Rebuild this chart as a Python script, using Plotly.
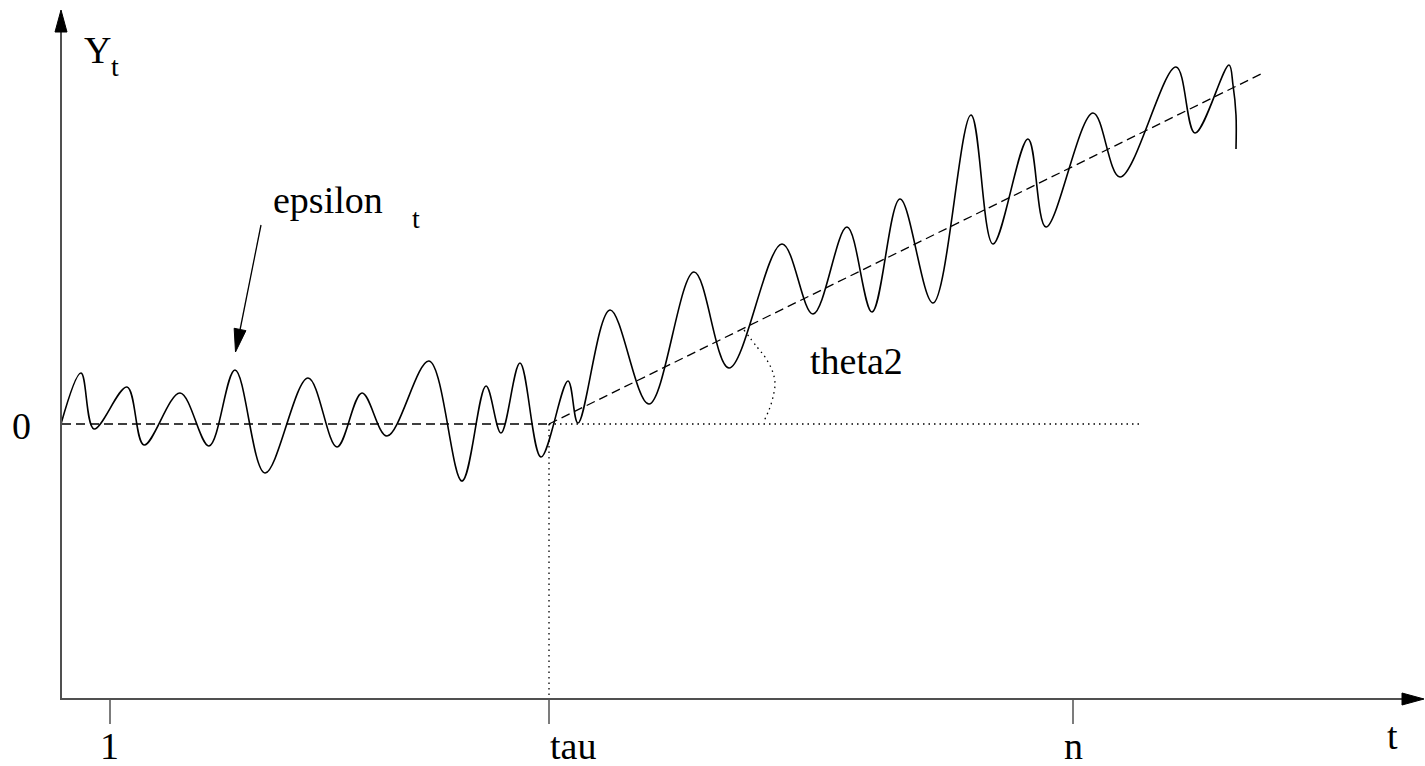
import plotly.graph_objects as go

# ---------------- data ----------------
# time position t and value Y_t (plot units; origin at t=0, Y=0)
wave_t = [-1, 19, 32, 65, 82, 118, 147, 173, 203, 246, 275, 300, 325, 367, 400,
          424, 439, 458, 479, 506, 516, 548, 587, 632, 667, 720, 751, 785, 810,
          838, 871, 909, 931, 966, 984, 1031, 1058, 1114, 1133, 1167, 1171, 1174, 1174]
wave_y = [0, 51, -5, 37, -21, 31, -22, 54, -49, 46, -23, 31, -12, 63, -57,
          38, -9, 61, -33, 43, 1, 114, 20, 152, 56, 180, 110, 197, 112,
          225, 121, 309, 180, 285, 197, 311, 247, 357, 291, 359, 339, 309, 275]

zero_t = [0, 487]          # mean level before the change point
zero_y = [0, 0]
trend_t = [487, 1199]      # trend after the change point
trend_y = [0, 350]
base_t = [487, 1081]       # horizontal reference for the angle
base_y = [0, 0]
tau_t = [487, 487]         # drop line at tau
tau_y = [0, -276]
arc_t = [682, 695, 703, 710, 713, 711, 707, 701]   # angle arc theta2
arc_y = [94, 77, 67, 54, 41, 27, 14, 1]

tick_t = [48, 487, 1011]
tick_labels = ["1", "tau", "n"]

# ---------------- geometry of the canvas ----------------
W, H = 1425, 766
X0, Y0 = 62, 424            # pixel of the origin (t=0, Y=0)


def P(px, py):
    """pixel -> plot units (1 unit = 1 px)"""
    return px - X0, Y0 - py


FONT = "Liberation Serif"
FS = 38
AX = "#505050"

fig = go.Figure()

fig.add_trace(go.Scatter(x=zero_t, y=zero_y, mode="lines",
                         line=dict(color="black", width=1.3, dash="9px,5px"),
                         hoverinfo="skip"))
fig.add_trace(go.Scatter(x=trend_t, y=trend_y, mode="lines",
                         line=dict(color="black", width=1.3, dash="9px,5px"),
                         hoverinfo="skip"))
fig.add_trace(go.Scatter(x=base_t, y=base_y, mode="lines",
                         line=dict(color="black", width=1.3, dash="1.5px,4px"),
                         hoverinfo="skip"))
fig.add_trace(go.Scatter(x=tau_t, y=tau_y, mode="lines",
                         line=dict(color="black", width=1.3, dash="1.5px,4px"),
                         hoverinfo="skip"))
fig.add_trace(go.Scatter(x=arc_t, y=arc_y, mode="lines",
                         line=dict(color="black", width=1.3, dash="1.5px,4px",
                                   shape="spline", smoothing=1.0),
                         hoverinfo="skip"))
fig.add_trace(go.Scatter(x=wave_t, y=wave_y, mode="lines",
                         line=dict(color="black", width=1.6, shape="spline",
                                   smoothing=1.0),
                         hoverinfo="skip"))

shapes = []

# axes
xa0 = P(61, 699)
xa1 = P(1405, 699)
shapes.append(dict(type="line", xref="x", yref="y", x0=xa0[0], y0=xa0[1],
                   x1=xa1[0], y1=xa1[1], line=dict(color=AX, width=2)))
ya0 = P(61, 700)
ya1 = P(61, 30)
shapes.append(dict(type="line", xref="x", yref="y", x0=ya0[0], y0=ya0[1],
                   x1=ya1[0], y1=ya1[1], line=dict(color=AX, width=2)))


def head(tip_px, dir_px, length, half):
    import math
    tx, ty = tip_px
    dx, dy = dir_px
    n = math.hypot(dx, dy)
    dx, dy = dx / n, dy / n
    bx, by = tx - dx * length, ty - dy * length
    nx, ny = -dy, dx
    pts = [(tx, ty), (bx + nx * half, by + ny * half), (bx - nx * half, by - ny * half)]
    pts = [P(a, b) for a, b in pts]
    path = "M{},{} L{},{} L{},{} Z".format(*[v for p in pts for v in p])
    return dict(type="path", xref="x", yref="y", path=path,
                fillcolor="black", line=dict(color="black", width=1))


shapes.append(head((1424, 699), (1, 0), 22, 6))
shapes.append(head((61, 10), (0, -1), 22, 6))

# epsilon pointer
e0 = P(261, 225)
e1 = P(239, 335)
shapes.append(dict(type="line", xref="x", yref="y", x0=e0[0], y0=e0[1],
                   x1=e1[0], y1=e1[1], line=dict(color="black", width=1.3)))
shapes.append(head((235.5, 352), (235.5 - 261, 352 - 225), 23, 6))

# ticks
for t in tick_t:
    shapes.append(dict(type="line", xref="x", yref="y", x0=t, y0=P(0, 700)[1],
                       x1=t, y1=P(0, 724)[1], line=dict(color=AX, width=1.5)))

ann = []


def text(s, px, py, size=FS, xanchor="center", yanchor="middle"):
    x, y = P(px, py)
    ann.append(dict(x=x, y=y, xref="x", yref="y", text=s, showarrow=False,
                    xanchor=xanchor, yanchor=yanchor,
                    font=dict(family=FONT, size=size, color="black")))


# tick labels
text(tick_labels[0], 109, 746)
text(tick_labels[1], 548, 746, xanchor="left")
text(tick_labels[2], 1073, 746)
text("t", 1392, 736)
text("0", 21, 426)
text("Y", 97, 50)
text("t", 115, 66, size=28)
text("epsilon", 271, 200, xanchor="left")
text("t", 416, 218, size=28)
text("theta2", 808, 361, xanchor="left")

fig.update_layout(
    width=W, height=H,
    margin=dict(l=0, r=0, t=0, b=0),
    paper_bgcolor="white", plot_bgcolor="white",
    showlegend=False,
    font=dict(family=FONT),
    xaxis=dict(range=[-X0, W - X0], visible=False, fixedrange=True),
    yaxis=dict(range=[Y0 - H, Y0], visible=False, fixedrange=True),
    shapes=shapes, annotations=ann,
)

fig.write_html("out.html", config={"displayModeBar": False, "staticPlot": True},
               post_script="document.body.style.margin='0';document.body.style.overflow='hidden';")
